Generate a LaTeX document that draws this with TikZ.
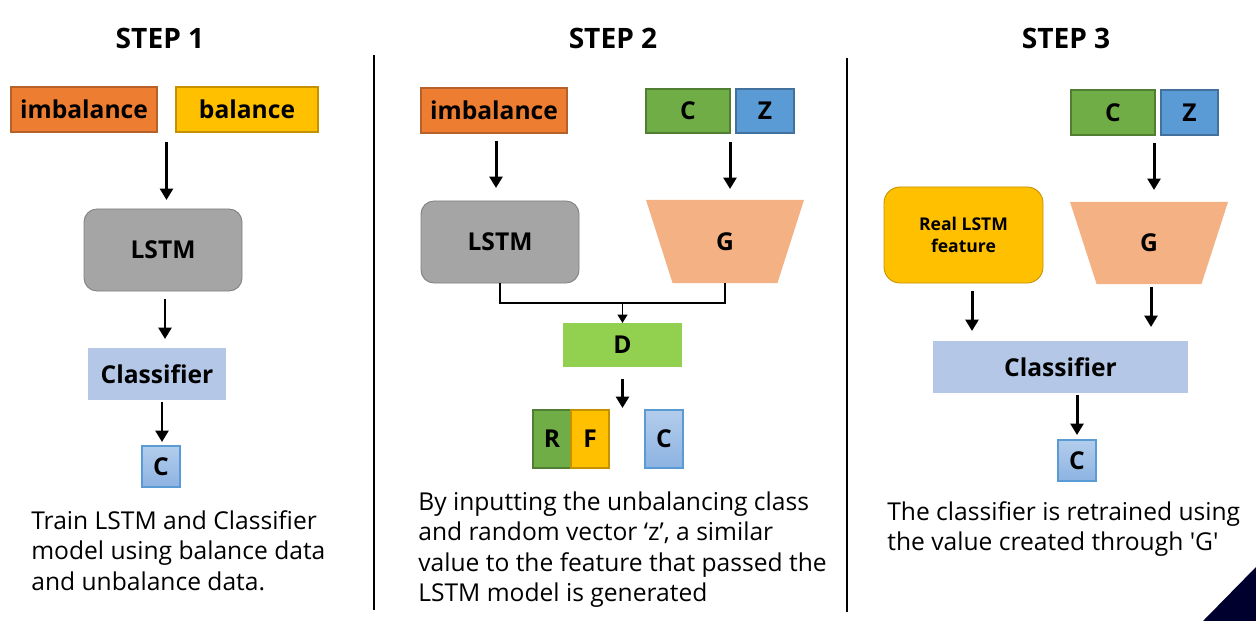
\documentclass[tikz,border=0pt]{standalone}
\usepackage{fontspec}
\setmainfont{Open Sans}
\usepackage{tikz}
\usetikzlibrary{
        arrows.meta,
        shapes.geometric,
        calc,
        positioning
    }

\definecolor{imbOrange}{HTML}{ED7D31}
\definecolor{imbOrangeDark}{HTML}{B7612A}
\definecolor{balYellow}{HTML}{FFC000}
\definecolor{balYellowDark}{HTML}{C49200}
\definecolor{lstmGray}{HTML}{A5A5A5}
\definecolor{lstmGrayDark}{HTML}{7F7F7F}
\definecolor{clsBlue}{HTML}{B4C7E7}
\definecolor{cTop}{HTML}{B3CDEC}
\definecolor{cBottom}{HTML}{8DB3E2}
\definecolor{cBorder}{HTML}{5B9BD5}
\definecolor{condGreen}{HTML}{70AD47}
\definecolor{condGreenDark}{HTML}{507E32}
\definecolor{noiseBlue}{HTML}{5B9BD5}
\definecolor{noiseBlueDark}{HTML}{41719C}
\definecolor{discGreen}{HTML}{92D050}
\definecolor{genSalmon}{HTML}{F4B183}
\definecolor{cornerNavy}{HTML}{00002E}

\begin{document}
\begin{tikzpicture}
[x=0.02cm, y=-0.02cm,
baseshape/.style={rectangle, inner sep=0pt, outer sep=0pt, text=black, font=\bfseries\fontsize{14}{16}\selectfont},
boxsize/.style 2 args={minimum width=#1*0.02cm, minimum height=#2*0.02cm},
inbox/.style={baseshape, line width=0.6pt},
lstmbox/.style={baseshape, rounded corners=0.26cm, fill=lstmGray, draw=lstmGrayDark, line width=0.5pt},
clsbox/.style={baseshape, fill=clsBlue},
outbox/.style={baseshape, draw=cBorder, line width=0.6pt, top color=cTop, bottom color=cBottom},
genshape/.style={baseshape, trapezium, trapezium stretches=true, shape border rotate=180,
  trapezium left angle=76, trapezium right angle=76, fill=genSalmon},
title/.style={font=\bfseries\fontsize{16}{19}\selectfont},
caption/.style={anchor=north west, align=left, inner sep=0pt, font=\fontsize{14}{17.4}\selectfont},
arrow/.style={line width=1.7pt, -{Triangle[width=0.26cm, length=0.23cm]}},
link/.style={line width=0.9pt},
smallarrow/.style={line width=0.9pt, -{Triangle[width=0.2cm, length=0.17cm]}},
sepline/.style={line width=1.1pt},
]
\useasboundingbox (0,0) rectangle (1256,621);

% step 1
\node (title1) [title] at (160,38) {STEP 1};
\node (imb1) [inbox, fill=imbOrange, draw=imbOrangeDark, boxsize={146}{45}] at (84,109.5) {imbalance};
\node (bal1) [inbox, fill=balYellow, draw=balYellowDark, boxsize={142}{45}] at (247,109.5) {balance};
\node (lstm1) [lstmbox, boxsize={158}{82}] at (163,250) {LSTM};
\node (cls1) [clsbox, boxsize={138}{52}] at (157,374) {Classifier};
\node (c1) [outbox, boxsize={38}{41}] at (161,466.5) {C};
\node (text1) [caption] at (31,510) {Train LSTM and Classifier\\model using balance data\\and unbalance data.};

\draw [arrow] ($(imb1.south east)!0.5!(bal1.south west)+(0,10)$) -- ++(0,58);
\draw [arrow] ($(lstm1.south)+(2,8)$) -- ++(0,40);
\draw [arrow] ($(cls1.south)+(5,2)$) -- ++(0,40);

% step 2
\node (title2) [title] at (613,38) {STEP 2};
\node (imb2) [inbox, fill=imbOrange, draw=imbOrangeDark, boxsize={146}{45}] at (494,110.5) {imbalance};
\node (c2) [inbox, fill=condGreen, draw=condGreenDark, boxsize={84}{44}] at (688,111) {C};
\node (z2) [inbox, fill=noiseBlue, draw=noiseBlueDark, boxsize={58}{44}] at (765,111) {Z};
\node (lstm2) [lstmbox, boxsize={158}{82}] at (500,242) {LSTM};
\node (g2) [genshape, boxsize={158}{83}] at (725,241.5) {G};
\node (d2) [clsbox, fill=discGreen, boxsize={119}{44}] at (622.5,345) {D};
\node (r2) [inbox, fill=condGreen, draw=condGreenDark, boxsize={38}{58}] at (552,439) {R};
\node (f2) [inbox, fill=balYellow, draw=balYellowDark, boxsize={38}{58}] at (590,439) {F};
\node (c3) [outbox, boxsize={38}{58}] at (664,439) {C};
\node (text2) [caption] at (418,491) {By inputting the unbalancing class\\and random vector ‘z’, a similar\\value to the feature that passed the\\LSTM model is generated};
\coordinate (join2) at ($(d2.north)+(0,-20)$);

\draw [arrow] ($(imb2.south)+(2,8)$) -- ++(0,47);
\draw [arrow] ($(c2.south east)+(0,9)$) -- ++(0,47);
\draw [link] (lstm2.south) |- (join2) -| (g2.south);
\draw [smallarrow] (join2) -- (d2.north);
\draw [arrow] ($(d2.south)+(0,12)$) -- ++(0,29);

% step 3
\node (title3) [title] at (1066,38) {STEP 3};
\node (c3b) [inbox, fill=condGreen, draw=condGreenDark, boxsize={84}{45}] at (1113,112.5) {C};
\node (z3) [inbox, fill=noiseBlue, draw=noiseBlueDark, boxsize={57}{45}] at (1189.5,112.5) {Z};
\node (real3) [lstmbox, fill=balYellow, draw=balYellowDark, rounded corners=0.32cm, align=center,
  font=\bfseries\fontsize{10}{12.5}\selectfont, boxsize={159}{96}] at (963.5,235) {Real LSTM\\feature};
\node (g3) [genshape, boxsize={158}{82}] at (1149,243) {G};
\node (cls3) [clsbox, boxsize={255}{52}] at (1060.5,367) {Classifier};
\node (c4) [outbox, boxsize={38}{41}] at (1077,460.5) {C};
\node (text3) [caption] at (887,501) {The classifier is retrained using\\the value created through \textquotesingle G\textquotesingle};

\draw [arrow] ($(c3b.south east)+(-1,8)$) -- ++(0,47);
\draw [arrow] ($(real3.south)+(8.5,8)$) -- ++(0,40);
\draw [arrow] ($(g3.center)+(2,44)$) -- ++(0,40);
\draw [arrow] ($(c4.north)+(0,-45)$) -- ++(0,40);

% separators
\draw [sepline] (374,55) -- (374,610);
\draw [sepline] (847,58) -- (847,612);
\fill [cornerNavy] (1203,621) -- (1256,567) -- (1256,621) -- cycle;

\end{tikzpicture}
\end{document}
